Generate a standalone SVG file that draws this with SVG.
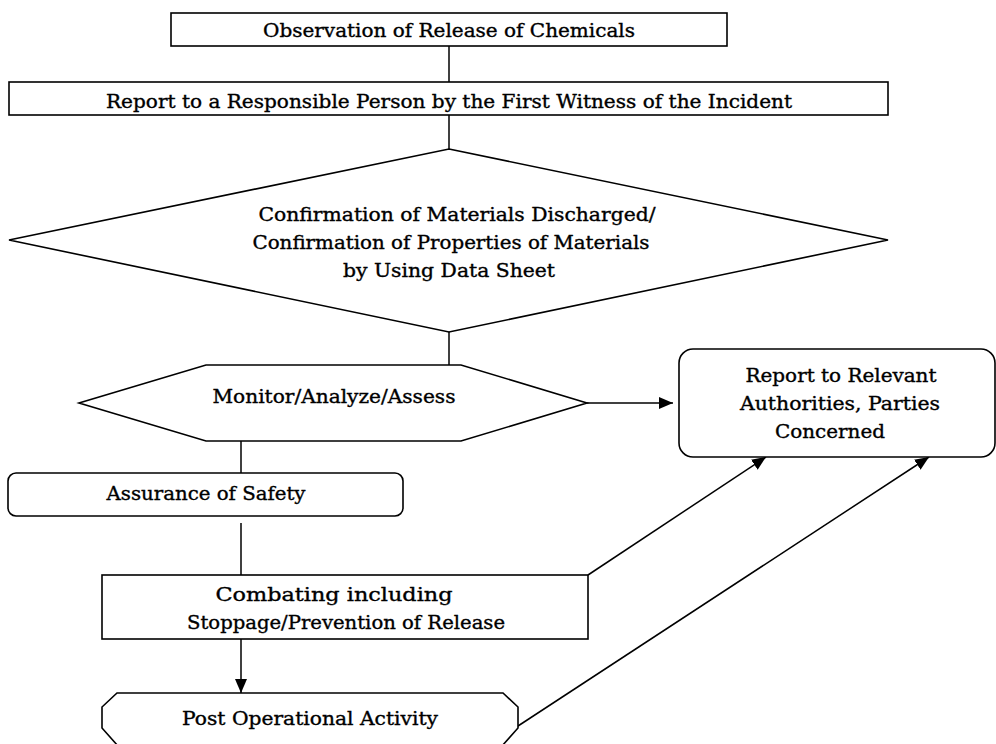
<svg xmlns="http://www.w3.org/2000/svg" width="996" height="744" viewBox="0 0 996 744">
  <style>
    .shape { fill: #ffffff; stroke: #000000; stroke-width: 1.6; }
    .link { fill: none; stroke: #000000; stroke-width: 1.5; }
    .label { font-family: "DejaVu Serif", "Liberation Serif", serif; font-size: 18.5px; fill: #000000; stroke: #000000; stroke-width: 0.35; text-anchor: middle; }
  </style>
  <defs>
    <marker id="arrow" markerUnits="userSpaceOnUse" markerWidth="15" markerHeight="13" refX="14" refY="6" orient="auto">
      <path d="M0,0 L14,6 L0,12 Z" fill="#000000"/>
    </marker>
  </defs>
  <rect width="996" height="744" fill="#ffffff"/>

  <!-- connectors -->
  <g id="connectors">
    <line class="link" x1="449" y1="46" x2="449" y2="82"/>
    <line class="link" x1="449" y1="115" x2="449" y2="149"/>
    <line class="link" x1="449" y1="332" x2="449" y2="365"/>
    <line class="link" x1="241" y1="441" x2="241" y2="473"/>
    <line class="link" x1="241" y1="523" x2="241" y2="575"/>
    <line class="link" x1="241" y1="639" x2="241" y2="693" marker-end="url(#arrow)"/>
    <line class="link" x1="587" y1="403" x2="673" y2="403" marker-end="url(#arrow)"/>
    <line class="link" x1="588" y1="575" x2="766" y2="457" marker-end="url(#arrow)"/>
    <line class="link" x1="518" y1="726" x2="929" y2="457" marker-end="url(#arrow)"/>
  </g>

  <g id="observation">
    <rect class="shape" x="171" y="13" width="556" height="33"/>
    <text class="label" x="449" y="37" textLength="372" lengthAdjust="spacingAndGlyphs">Observation of Release of Chemicals</text>
  </g>

  <g id="first-report">
    <rect class="shape" x="9" y="82" width="879" height="33"/>
    <text class="label" x="449" y="108" textLength="686" lengthAdjust="spacingAndGlyphs">Report to a Responsible Person by the First Witness of the Incident</text>
  </g>

  <g id="confirmation">
    <path class="shape" d="M449,149 L888,240 L449,332 L9,240 Z"/>
    <text class="label" x="457" y="221" textLength="397" lengthAdjust="spacingAndGlyphs">Confirmation of Materials Discharged/</text>
    <text class="label" x="451" y="249" textLength="397" lengthAdjust="spacingAndGlyphs">Confirmation of Properties of Materials</text>
    <text class="label" x="449" y="277" textLength="212" lengthAdjust="spacingAndGlyphs">by Using Data Sheet</text>
  </g>

  <g id="monitor">
    <path class="shape" d="M206,365 L461,365 L587,403 L461,441 L206,441 L79,403 Z"/>
    <text class="label" x="334" y="403" textLength="243" lengthAdjust="spacingAndGlyphs">Monitor/Analyze/Assess</text>
  </g>

  <g id="authorities">
    <rect class="shape" x="679" y="349" width="316" height="108" rx="14" ry="14"/>
    <text class="label" x="841" y="382" textLength="191" lengthAdjust="spacingAndGlyphs">Report to Relevant</text>
    <text class="label" x="840" y="410" textLength="200" lengthAdjust="spacingAndGlyphs">Authorities, Parties</text>
    <text class="label" x="830" y="438" textLength="110" lengthAdjust="spacingAndGlyphs">Concerned</text>
  </g>

  <g id="safety">
    <rect class="shape" x="8" y="473" width="395" height="43" rx="8" ry="8"/>
    <text class="label" x="206" y="500" textLength="199" lengthAdjust="spacingAndGlyphs">Assurance of Safety</text>
  </g>

  <g id="combating">
    <rect class="shape" x="102" y="575" width="486" height="64"/>
    <text class="label" x="334" y="601" textLength="237" lengthAdjust="spacingAndGlyphs">Combating including</text>
    <text class="label" x="346" y="629" textLength="318" lengthAdjust="spacingAndGlyphs">Stoppage/Prevention of Release</text>
  </g>

  <g id="post-operation">
    <path class="shape" d="M117,693 L503,693 L518,707 L518,728 L502,746 L118,746 L102,728 L102,707 Z"/>
    <text class="label" x="310" y="725" textLength="256" lengthAdjust="spacingAndGlyphs">Post Operational Activity</text>
  </g>
</svg>
